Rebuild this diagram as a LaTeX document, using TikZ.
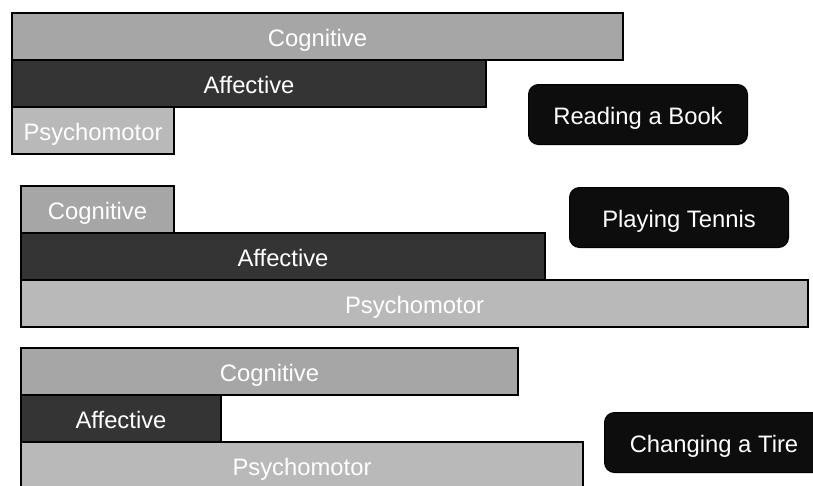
\documentclass[tikz,border=0pt]{standalone}
\usepackage{fontspec}
\setmainfont{Liberation Sans}
\usetikzlibrary{positioning}
\definecolor{coggray}{RGB}{166,166,166}
\definecolor{affgray}{RGB}{52,52,52}
\definecolor{psygray}{RGB}{185,185,185}
\definecolor{taskblack}{RGB}{13,13,13}

\begin{document}
\begin{tikzpicture}[
  x=1pt, y=-1pt,
  bar/.style={rectangle, draw=black, line width=2.5pt, text=white, minimum height=47pt,
              inner sep=0pt, outer sep=0pt, text height=19pt, text depth=0pt,
              anchor=north west, font=\fontsize{23.8}{28}\selectfont},
  cogbar/.style={bar, fill=coggray},
  affbar/.style={bar, fill=affgray},
  psybar/.style={bar, fill=psygray},
  task/.style={rectangle, rounded corners=10pt, draw=black, line width=1pt, fill=taskblack, text=white,
               minimum width=219pt, minimum height=60pt, inner sep=0pt, text height=19pt, text depth=0pt,
               anchor=north west, font=\fontsize{23.8}{28}\selectfont}
]
\clip (0,0) rectangle (813,485);

% reading a book
\node[cogbar, minimum width=611pt] (cogA) at (12,13) {Cognitive};
\node[affbar, minimum width=474pt, below right=0pt of cogA.south west] (affA) {Affective};
\node[psybar, minimum width=162pt, below right=0pt of affA.south west] (psyA) {Psychomotor};
\node[task] (readA) at (528,84) {Reading a Book};

% playing tennis
\node[cogbar, minimum width=153pt] (cogB) at (21,186) {Cognitive};
\node[affbar, minimum width=524pt, below right=0pt of cogB.south west] (affB) {Affective};
\node[psybar, minimum width=787pt, below right=0pt of affB.south west] (psyB) {Psychomotor};
\node[task] (playB) at (569,187) {Playing Tennis};

% changing a tire
\node[cogbar, minimum width=497pt] (cogC) at (21,348) {Cognitive};
\node[affbar, minimum width=200pt, below right=0pt of cogC.south west] (affC) {Affective};
\node[psybar, minimum width=562pt, below right=0pt of affC.south west] (psyC) {Psychomotor};
\node[task] (tireC) at (604,412) {Changing a Tire};
\end{tikzpicture}
\end{document}
